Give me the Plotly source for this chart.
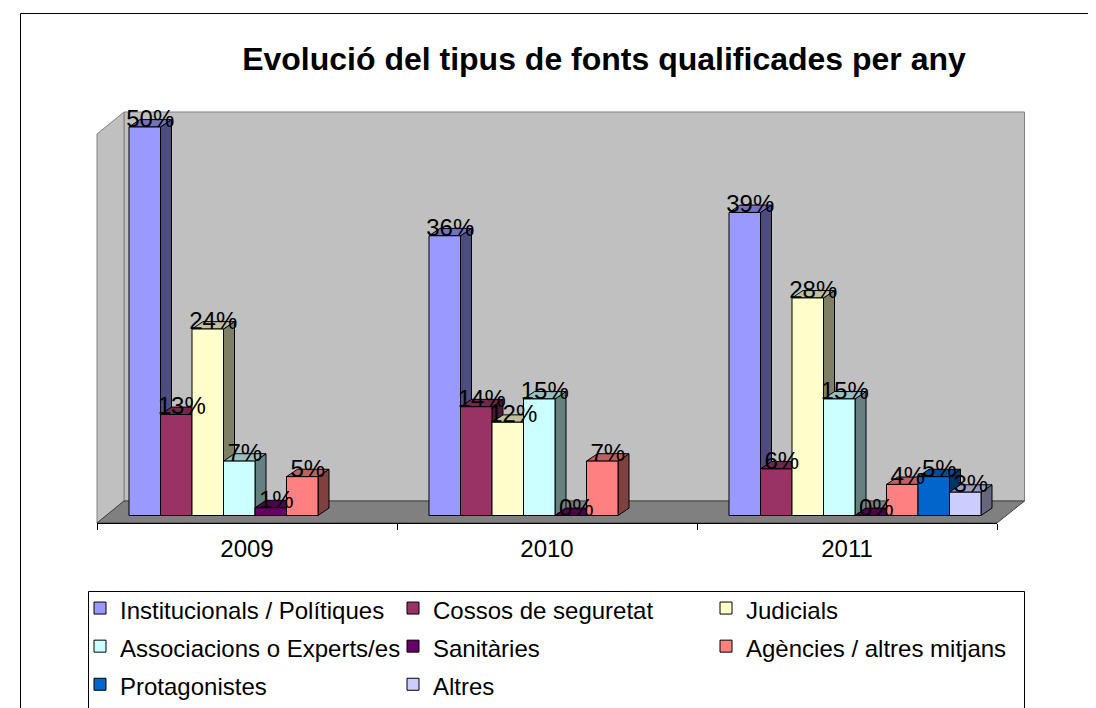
import plotly.graph_objects as go

years = ["2009", "2010", "2011"]
institucionals = [50, 36, 39]
cossos = [13, 14, 6]
judicials = [24, 12, 28]
associacions = [7, 15, 15]
sanitaries = [1, 0, 0]
agencies = [5, 7, 4]
protagonistes = [None, None, 5]
altres = [None, None, 3]

names = ["Institucionals / Polítiques", "Cossos de seguretat", "Judicials",
         "Associacions o Experts/es", "Sanitàries", "Agències / altres mitjans",
         "Protagonistes", "Altres"]
series = [institucionals, cossos, judicials, associacions, sanitaries, agencies, protagonistes, altres]
colors = ["#9999FF", "#993366", "#FFFFCC", "#CCFFFF", "#660066", "#FF8080", "#0066CC", "#CCCCFF"]

# The page body has an 8px margin, so all positions below are given in window
# pixels and moved by PAGE. The figure runs past the bottom of the window so
# that the legend has room under the plot area without pushing it upwards.
PAGE = 8
W, H = 1104 - PAGE, 740
L, R, T, B = 97, 997, 112, 523
Y0 = 515.5
PX_PER_UNIT = 7.77
yrange = [(Y0 - B) / PX_PER_UNIT, (Y0 - T) / PX_PER_UNIT]
xrange_ = [-0.5, 2.5]
PX_PER_CAT = (R - L) / 3
barw = 31.5 / PX_PER_CAT
shift = 8 / PX_PER_CAT
dx = 11 / PX_PER_CAT
dy = 7.4 / PX_PER_UNIT


def shade(hexc, f):
    r, g, b = int(hexc[1:3], 16), int(hexc[3:5], 16), int(hexc[5:7], 16)
    return f"rgb({int(r*f)},{int(g*f)},{int(b*f)})"


def px(x):
    return (x - L) / (R - L)


def py(y):
    return (B - y) / (B - T)


def poly(points):
    return "M" + "L".join(f"{px(a):.5f},{py(b):.5f}" for a, b in points) + "Z"


fig = go.Figure()

# 3D side and top faces sit on the main axes, below the overlaid front faces
for s, (vals, col) in enumerate(zip(series, colors)):
    sx, sy, tx, ty = [], [], [], []
    for g, v in enumerate(vals):
        if v is None:
            continue
        x0 = g + shift + (s - 3.5) * barw - barw / 2
        x1 = x0 + barw
        sx += [x1, x1 + dx, x1 + dx, x1, x1, None]
        sy += [0, dy, v + dy, v, 0, None]
        tx += [x0, x0 + dx, x1 + dx, x1, x0, None]
        ty += [v, v + dy, v + dy, v, v, None]
    for xs, ys, f in ((sx, sy, 0.5), (tx, ty, 0.75)):
        fig.add_trace(go.Scatter(x=xs, y=ys, mode="lines", fill="toself", fillcolor=shade(col, f),
                                 line=dict(color="#000000", width=1), showlegend=False,
                                 hoverinfo="skip", xaxis="x", yaxis="y", cliponaxis=False))

# Front faces
for s, (vals, col, name) in enumerate(zip(series, colors, names)):
    xs = [g + shift + (s - 3.5) * barw for g in range(len(years))]
    fig.add_trace(go.Bar(x=xs, y=vals, width=barw, marker=dict(color=col, line=dict(color="#000000", width=1)),
                         name=f'<span style="font-size:24px">{name}</span>', xaxis="x2", yaxis="y2",
                         hovertemplate=name + ": %{y}%<extra></extra>", cliponaxis=False))

# Data labels
for s, vals in enumerate(series):
    pts = [(g + shift + (s - 3.5) * barw + dx / 2, v + 6 / PX_PER_UNIT, f"{v}%")
           for g, v in enumerate(vals) if v is not None]
    fig.add_trace(go.Scatter(x=[p[0] for p in pts], y=[p[1] for p in pts], text=[p[2] for p in pts],
                             mode="text", textposition="middle center",
                             textfont=dict(family="Liberation Sans", size=24, color="#000000"),
                             showlegend=False, hoverinfo="skip", xaxis="x2", yaxis="y2", cliponaxis=False))

BW_L, BW_R, BW_B = 124, 1024.5, 501
wall = "#C0C0C0"
edge = "#808080"
shapes = [
    # outer chart border and legend box
    dict(type="path", xref="paper", yref="paper", layer="below", line=dict(color="#000000", width=1),
         path=f"M{px(20.5):.5f},{py(730):.5f}L{px(20.5):.5f},{py(13.5):.5f}L{px(1110):.5f},{py(13.5):.5f}"),
    dict(type="path", xref="paper", yref="paper", layer="below", fillcolor="#FFFFFF", line=dict(color="#000000", width=1),
         path=poly([(88.5, 591.5), (1024.5, 591.5), (1024.5, 730), (88.5, 730)])),
    # walls and floor
    dict(type="path", xref="paper", yref="paper", layer="below", fillcolor=wall, line=dict(color=edge, width=1),
         path=poly([(BW_L, T), (BW_R, T), (BW_R, BW_B), (BW_L, BW_B)])),
    dict(type="path", xref="paper", yref="paper", layer="below", fillcolor=wall, line=dict(color=edge, width=1),
         path=poly([(L, 134), (BW_L, T), (BW_L, BW_B), (L, B)])),
    dict(type="path", xref="paper", yref="paper", layer="below", fillcolor=edge, line=dict(color="#404040", width=1),
         path=poly([(L, B), (BW_L, BW_B), (BW_R, BW_B), (R, B)])),
]

fig.update_layout(
    width=W, height=H, autosize=False,
    margin=dict(l=L - PAGE, r=W - (R - PAGE), t=T - PAGE, b=H - (B - PAGE), pad=0),
    paper_bgcolor="#FFFFFF", plot_bgcolor="rgba(0,0,0,0)",
    barmode="overlay",
    font=dict(family="Liberation Sans", color="#000000"),
    title=dict(text="<b>Evolució del tipus de fonts qualificades per any</b>",
               x=(604 - PAGE) / W, xref="container", xanchor="center",
               y=1 - (59 - PAGE) / H, yref="container", yanchor="middle",
               font=dict(family="Liberation Sans", size=32, color="#000000")),
    xaxis=dict(range=xrange_, tickvals=[0, 1, 2], ticktext=years, ticks="", showgrid=False, zeroline=False,
               showline=True, linecolor="#000000", linewidth=1,
               tickfont=dict(family="Liberation Sans", size=24),
               ticklabelstandoff=4,
               minor=dict(tickmode="array", tickvals=[-0.5, 0.5, 1.5, 2.5], ticks="outside", ticklen=6,
                          tickcolor="#000000", tickwidth=1, showgrid=False),
               fixedrange=True),
    yaxis=dict(range=yrange, visible=False, fixedrange=True),
    xaxis2=dict(range=xrange_, overlaying="x", visible=False, fixedrange=True),
    yaxis2=dict(range=yrange, overlaying="y", visible=False, fixedrange=True),
    shapes=shapes,
    legend=dict(orientation="h", x=px(80), xanchor="left", y=py(584), yanchor="top",
                entrywidth=268, entrywidthmode="pixels", borderwidth=0,
                bgcolor="rgba(0,0,0,0)", font=dict(family="Liberation Sans", size=27), traceorder="normal"),
)

fig.write_html("out.html", post_script="document.documentElement.style.overflow='hidden';")
